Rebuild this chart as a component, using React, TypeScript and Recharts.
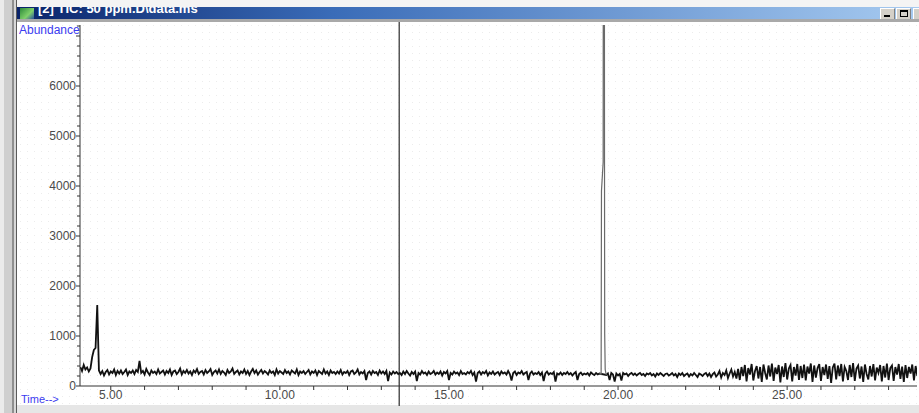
import { LineChart, Line, XAxis, YAxis, ReferenceLine } from 'recharts'

// TIC trace, sampled every 0.05 min; peaks carry their own retention times
const scanStep = 0.05

const leadInStart = 4.1
const leadIn = [380, 300, 420, 330, 370, 290, 350, 580, 720, 760, 1620, 310]

const baselineAStart = 4.7
const baselineA = [
  240, 300, 210, 280, 320, 230, 290, 260, 330, 220, 300, 250, 310, 240, 280, 330, 220, 290, 260, 310,
  240, 320, 280, 500, 260, 300, 230, 340, 270, 220, 310, 260, 290, 240, 330, 250, 280, 310, 230, 300,
  260, 330, 220, 290, 310, 240, 280, 350, 230, 300, 260, 320, 250, 290, 220, 310, 270, 340, 240, 280,
  300, 230, 320, 260, 290, 340, 220, 280, 310, 250, 330, 240, 300, 270, 220, 320, 260, 290, 350, 240,
  280, 310, 230, 290, 260, 330, 240, 300, 220, 290, 340, 260, 310, 230, 280, 320, 250, 300, 270, 230,
  310, 260, 290, 220, 330, 250, 300, 270, 240, 320, 260, 290, 230, 310, 280, 250, 330, 220, 290, 260,
  300, 240, 280, 320, 230, 290, 260, 310, 220, 300, 270, 240, 330, 250, 290, 220, 310, 260, 280, 240,
  290, 250, 320, 230, 280, 260, 300, 220, 290, 310, 240, 270, 330, 230, 280, 250, 300, 120, 260, 290,
  230, 300, 260, 280, 220, 310, 250, 290, 240, 300, 100, 270, 230, 290, 250, 280, 240,
]

const baselineBStart = 13.55
const baselineB = [
  260, 220, 290, 240, 300, 250, 210, 280, 240, 290, 100, 260, 230, 300, 250, 270, 220, 290, 240, 260,
  300, 230, 270, 240, 290, 210, 280, 250, 300, 120, 260, 230, 290, 250, 270, 220, 300, 240, 260, 230,
  280, 250, 300, 220, 270, 90, 260, 290, 230, 280, 250, 300, 210, 270, 240, 290, 230, 260, 280, 220,
  290, 250, 270, 230, 300, 240, 110, 260, 290, 220, 270, 250, 300, 230, 260, 280, 120, 250, 290, 230,
  260, 240, 280, 220, 270, 100, 250, 290, 230, 260, 240, 280, 90, 250, 230, 270, 220, 260, 240, 280,
  230, 260, 210, 250, 280, 120, 240, 270, 220, 250, 230, 260, 210, 270, 240, 220, 260, 230, 250,
]

// main peak, runs off scale
const peakTimes = [19.45, 19.5, 19.51, 19.56, 19.58, 19.6, 19.605, 19.62, 19.65]
const peakValues = [250, 240, 3900, 4480, 30000, 4400, 1050, 330, 220]

const baselineCStart = 19.65
const baselineC = [
  220, 250, 120, 260, 230, 90, 250, 210, 240, 110, 260, 230, 250, 200, 240, 260, 220, 250, 210, 240,
  260, 220, 240, 200, 250, 230, 260, 210, 240, 190, 250, 220, 260, 230, 200, 240, 250, 210, 230, 260,
  210, 240, 180, 250, 220, 260, 200, 230, 250, 190, 240, 210, 260, 220, 180, 250, 230, 200, 240, 260,
  200, 250, 180, 240, 270, 190, 230, 300, 170, 260, 220, 310, 160, 250, 330, 190, 280, 150,
]

const tailStart = 23.55
const noisyTail = [
  340, 120, 380, 200, 420, 90, 360, 230, 440, 110, 300, 400, 150, 380, 80, 430, 260, 130, 410, 190,
  450, 100, 370, 240, 420, 70, 390, 180, 460, 130, 350, 420, 90, 380, 210, 440, 120, 400, 160, 430,
  110, 390, 250, 450, 80, 410, 170, 360, 440, 100, 380, 220, 430, 140, 400, 60, 370, 450, 130, 410,
  200, 440, 90, 380, 300, 120, 420, 180, 460, 100, 350, 410, 150, 390, 80, 430, 240, 130, 400, 190,
  440, 110, 370, 260, 420, 90, 400, 170, 450, 120, 360, 410, 100, 380, 230, 440, 140, 390, 80, 420,
  160, 380, 250, 430, 110, 400, 200,
]

const cursorTime = 13.53

const yTicks = [0, 200, 400, 600, 800, 1000, 1200, 1400, 1600, 1800, 2000, 2200, 2400, 2600, 2800, 3000,
  3200, 3400, 3600, 3800, 4000, 4200, 4400, 4600, 4800, 5000, 5200, 5400, 5600, 5800, 6000, 6200, 6400,
  6600, 6800, 7000, 7200]
const yLabels = [0, 1000, 2000, 3000, 4000, 5000, 6000]
const xTicks = [5, 6, 7, 8, 9, 10, 11, 12, 13, 14, 15, 16, 17, 18, 19, 20, 21, 22, 23, 24, 25, 26, 27, 28]
const xLabels = [5, 10, 15, 20, 25]

const segment = (start: number, values: number[]) =>
  values.map((v, i) => ({ t: +(start + i * scanStep).toFixed(3), abundance: v }))

// the off-scale peak gets its own (thin, grey) series so the noise can be drawn heavier
const data = [
  ...segment(leadInStart, leadIn),
  ...segment(baselineAStart, baselineA),
  ...segment(baselineBStart, baselineB),
  ...peakTimes.slice(1, -1).map((t, i) => ({ t, peak: peakValues[i + 1] })),
  ...segment(baselineCStart, baselineC),
  ...segment(tailStart, noisyTail),
].map((d: any) => {
  const k = peakTimes.indexOf(d.t)
  return k === 0 || k === peakTimes.length - 1 ? { ...d, peak: peakValues[k] } : d
})

const labelFont = '"Liberation Sans", Arial, sans-serif'

function YTick({ x, y, payload }: any) {
  const major = payload.value % 1000 === 0
  return (
    <g>
      <line x1={x - (major ? 4 : 3)} y1={y} x2={x} y2={y} stroke="#333" />
      {yLabels.includes(payload.value) && (
        <text x={x - 4} y={y + 4} textAnchor="end" fontSize={12} fill="#4a4a4a" fontFamily={labelFont}>
          {payload.value}
        </text>
      )}
    </g>
  )
}

function XTick({ x, y, payload }: any) {
  return (
    <g>
      <line x1={x} y1={y} x2={x} y2={y + 4} stroke="#333" />
      {xLabels.includes(payload.value) && (
        <text x={x} y={y + 13} textAnchor="middle" fontSize={12} fill="#4a4a4a" fontFamily={labelFont}>
          {payload.value.toFixed(2)}
        </text>
      )}
    </g>
  )
}

const buttonStyle = {
  position: 'absolute' as const, top: 1, width: 15, height: 11, background: '#d4d0c8',
  borderTop: '1px solid #fff', borderLeft: '1px solid #fff', borderRight: '1px solid #808080',
  boxSizing: 'border-box' as const,
}

export default function App() {
  return (
    <div style={{ position: 'absolute', left: 0, top: 0, width: 919, height: 413, overflow: 'hidden', background: '#f4f4f4' }}>
      {/* window frame */}
      <div style={{ position: 'absolute', left: 0, top: 0, width: 4, height: 413, background: '#ebebeb' }} />
      <div style={{ position: 'absolute', left: 4, top: 0, width: 8, height: 413, background: '#cfcfcf' }} />
      <div style={{ position: 'absolute', left: 12, top: 0, width: 2, height: 413, background: '#8f8f8f' }} />
      <div style={{ position: 'absolute', left: 14, top: 0, width: 2, height: 413, background: '#d8d8d8' }} />
      <div style={{ position: 'absolute', left: 16, top: 0, width: 1, height: 413, background: '#5a5a5a' }} />

      {/* title bar */}
      <div
        style={{
          position: 'absolute', left: 17, top: 7, width: 902, height: 12, overflow: 'hidden',
          background: 'linear-gradient(to right, #0a246a, #3a6cb8 35%, #a6caf0)',
        }}
      >
        <div style={{ position: 'absolute', left: 3, top: 1, width: 14, height: 11, background: 'linear-gradient(135deg, #2c8a3a, #7fd06a 60%, #2a4fa0)' }} />
        <div
          style={{
            position: 'absolute', left: 21, top: -6, whiteSpace: 'nowrap', color: '#fff',
            font: `bold 13px ${labelFont}`,
          }}
        >
          [2] TIC: 50 ppm.D\data.ms
        </div>
        <div style={{ ...buttonStyle, left: 863 }}>
          <div style={{ position: 'absolute', left: 3, top: 6, width: 6, height: 2, background: '#000' }} />
        </div>
        <div style={{ ...buttonStyle, left: 879 }}>
          <div style={{ position: 'absolute', left: 3, top: 1, width: 8, height: 7, border: '1px solid #000', borderTopWidth: 2, boxSizing: 'border-box' }} />
        </div>
        <div style={{ ...buttonStyle, left: 896 }} />
      </div>
      <div style={{ position: 'absolute', left: 17, top: 19, width: 902, height: 3, background: '#a9a9a9' }} />

      {/* plot panel */}
      <div
        style={{
          position: 'absolute', left: 17, top: 22, width: 902, height: 383, background: '#fff',
          backgroundImage: 'radial-gradient(circle, #ececec 0.6px, transparent 0.8px)',
          backgroundSize: '7px 7px',
        }}
      />
      <div style={{ position: 'absolute', left: 17, top: 405, width: 902, height: 8, background: '#e6e6e6' }} />

      <div style={{ position: 'absolute', left: 19, top: 23, color: '#3b3bf0', font: `12px ${labelFont}` }}>Abundance</div>
      <div style={{ position: 'absolute', left: 21, top: 393, color: '#3b3bf0', font: `11px ${labelFont}` }}>Time--&gt;</div>

      <div style={{ position: 'absolute', left: 0, top: 0 }}>
        <LineChart width={919} height={413} data={data} margin={{ top: 25, right: 2, bottom: 0, left: 0 }}>
          <XAxis
            dataKey="t"
            type="number"
            domain={[4.09, 28.84]}
            allowDataOverflow
            ticks={xTicks}
            interval={0}
            height={27}
            tickSize={0}
            tickMargin={0}
            tickLine={false}
            tick={<XTick />}
            axisLine={{ stroke: '#333' }}
          />
          <YAxis
            type="number"
            domain={[0, 7220]}
            allowDataOverflow
            ticks={yTicks}
            interval={0}
            width={80}
            tickSize={0}
            tickMargin={0}
            tickLine={false}
            tick={<YTick />}
            axisLine={{ stroke: '#333' }}
          />
          <ReferenceLine
            segment={[{ x: cursorTime, y: -400 }, { x: cursorTime, y: 7280 }]}
            ifOverflow="visible"
            stroke="#555"
            strokeWidth={1.5}
          />
          <Line
            dataKey="abundance"
            type="linear"
            stroke="#111"
            strokeWidth={1.8}
            dot={false}
            connectNulls
            isAnimationActive={false}
          />
          <Line
            dataKey="peak"
            type="linear"
            stroke="#6a6a6a"
            strokeWidth={1.2}
            dot={false}
            connectNulls
            isAnimationActive={false}
          />
        </LineChart>
      </div>
    </div>
  )
}
